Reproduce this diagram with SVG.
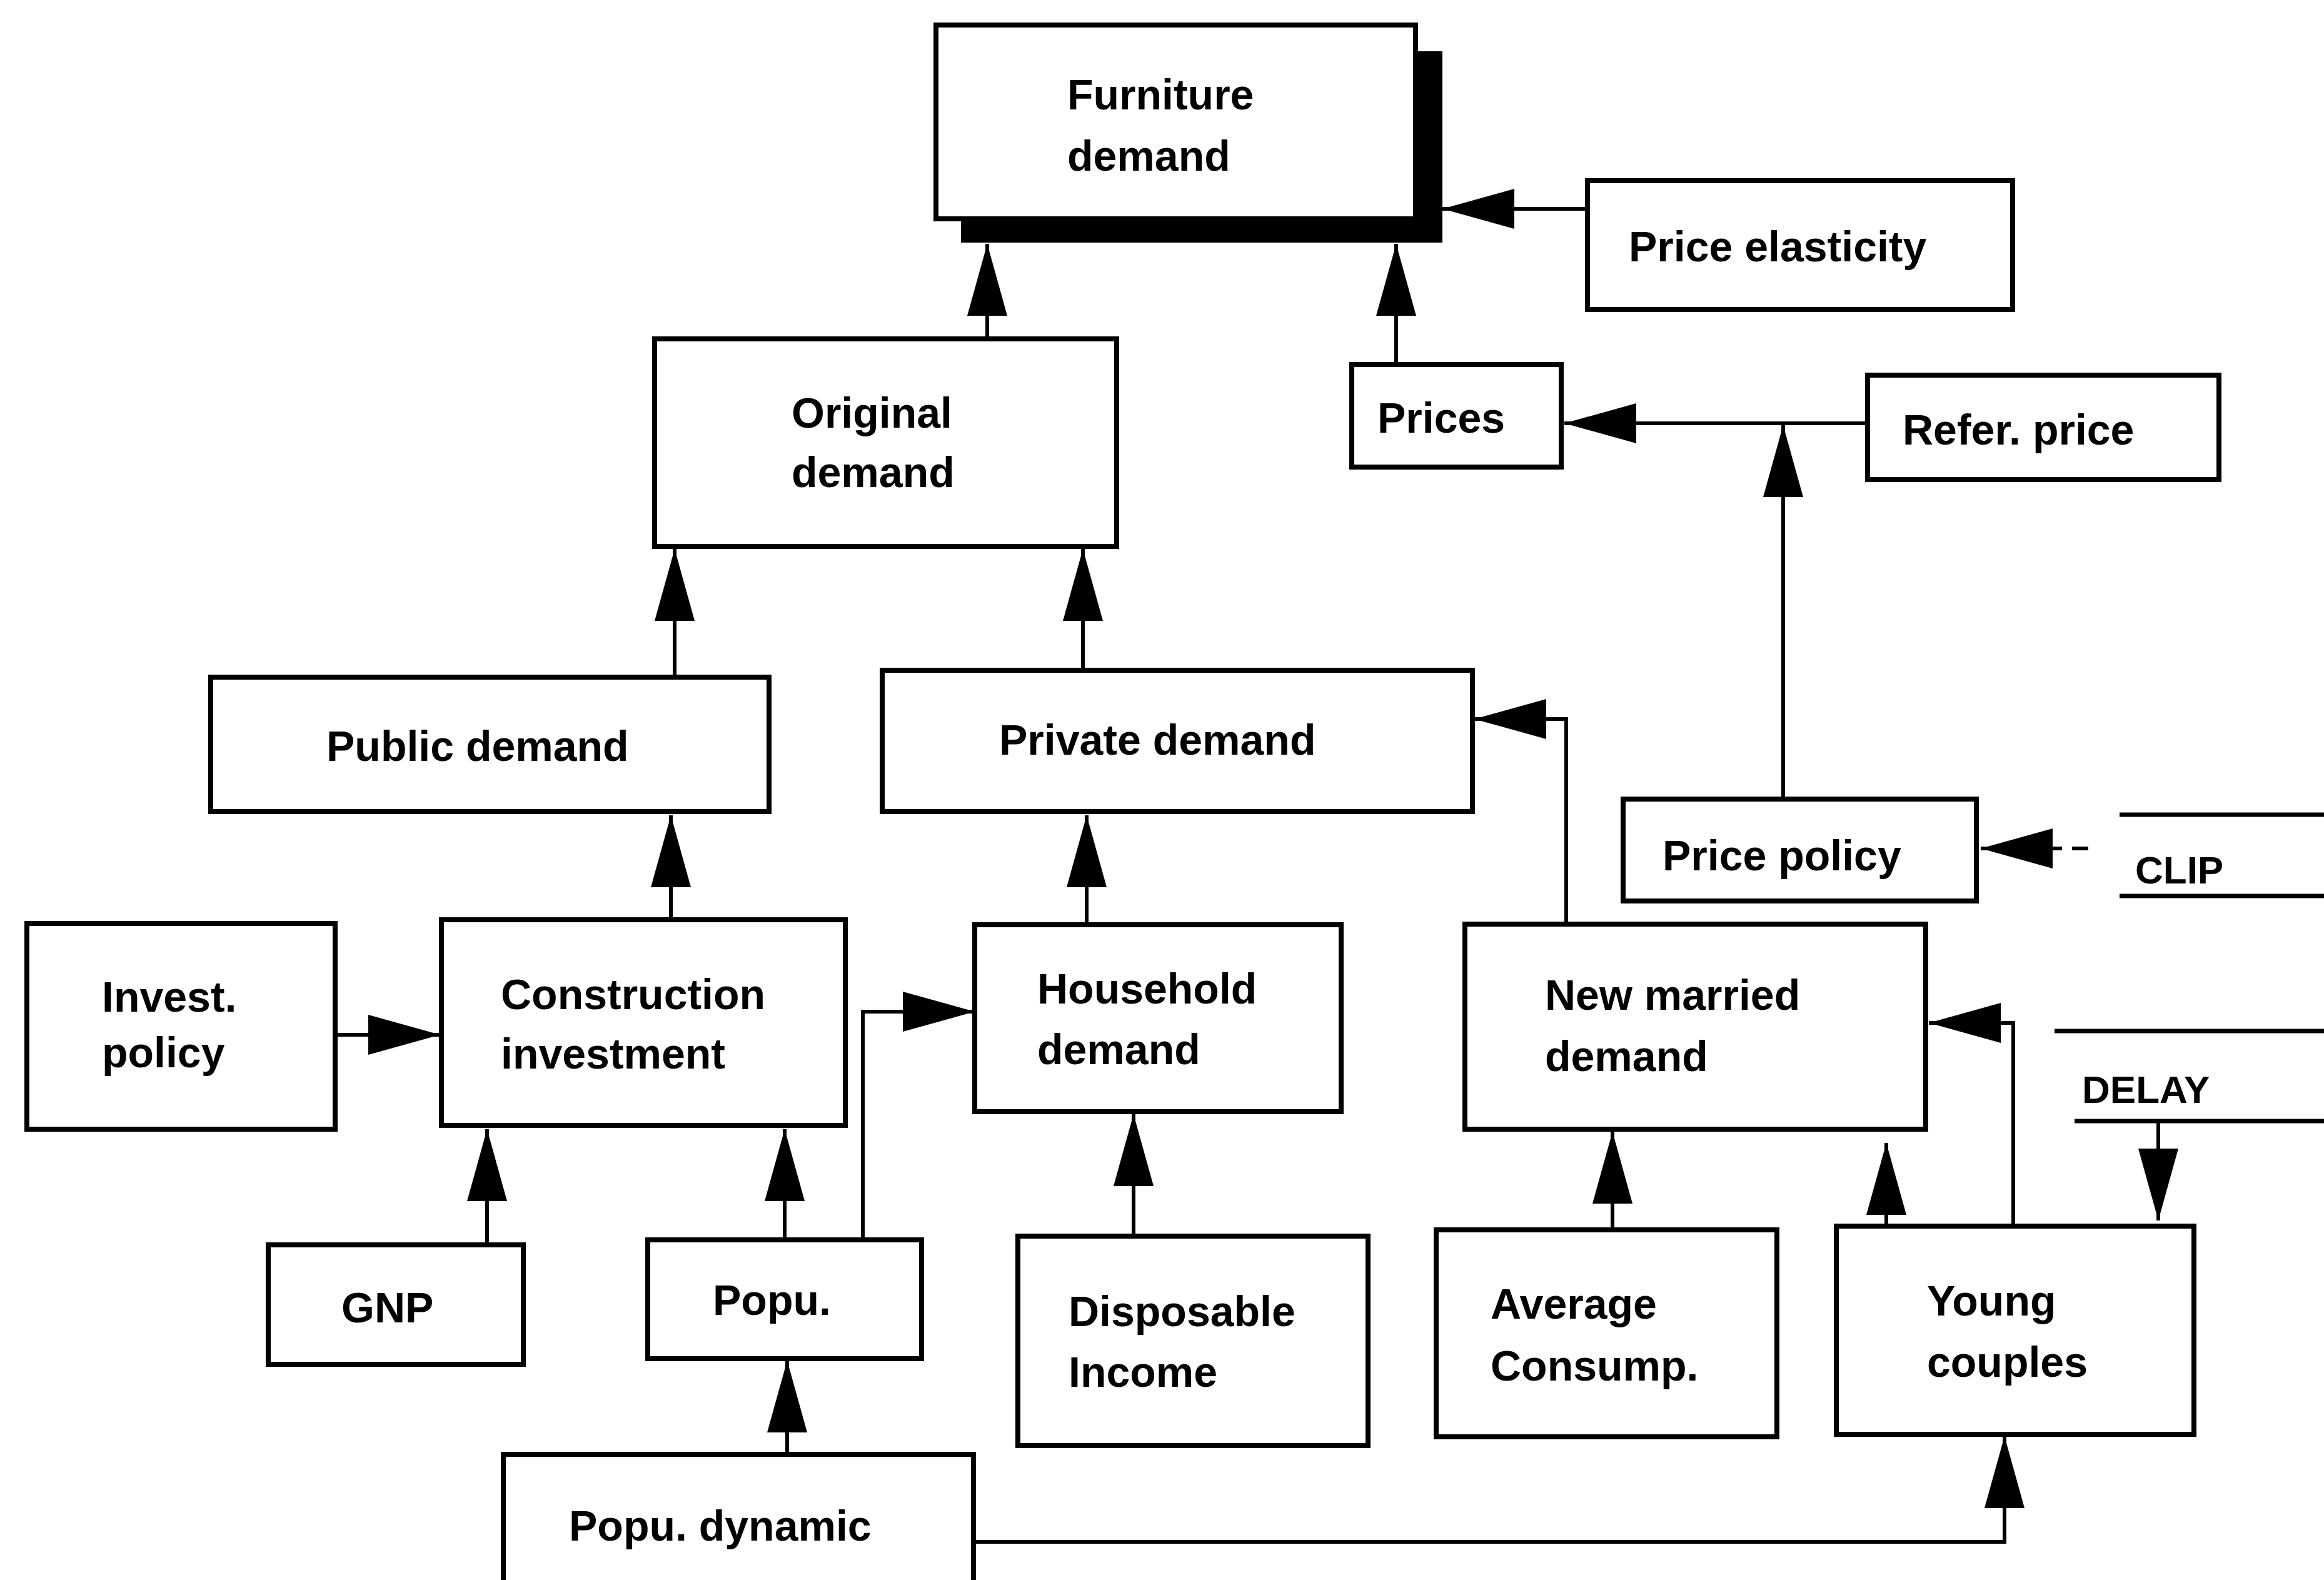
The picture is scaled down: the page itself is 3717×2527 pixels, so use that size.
<svg xmlns="http://www.w3.org/2000/svg" width="3717" height="2527" viewBox="0 0 3717 2527">
<defs>
<style>
.box{fill:#fff;stroke:#000;stroke-width:8}
.lbl{font-family:"Liberation Sans",Arial,sans-serif;font-weight:bold;font-size:68px;fill:#000}
.small{font-size:62px}
.conn{fill:none;stroke:#000;stroke-width:6}
.arr{marker-end:url(#ah)}
.rule{fill:none;stroke:#000;stroke-width:7}
</style>
<marker id="ah" viewBox="0 0 115 64" refX="115" refY="32" markerWidth="115" markerHeight="64" markerUnits="userSpaceOnUse" orient="auto">
<path d="M0,0 L115,32 L0,64 Z" fill="#000"/>
</marker>
</defs>
<rect x="0" y="0" width="3717" height="2527" fill="#fff"/>

<g id="connectors">
<path class="conn arr" d="M2539,334 L2307,334"/>
<path class="conn arr" d="M1579,540 L1579,390"/>
<path class="conn arr" d="M2233,583 L2233,390"/>
<path class="conn arr" d="M2987,677 L2502,677"/>
<path class="conn arr" d="M2852,1278 L2852,680"/>
<path class="conn arr" d="M1079,1083 L1079,878"/>
<path class="conn arr" d="M1732,1072 L1732,878"/>
<path class="conn arr" d="M1073,1471 L1073,1304"/>
<path class="conn arr" d="M1738,1479 L1738,1304"/>
<path class="conn arr" d="M2505,1478 L2505,1150 L2358,1150"/>
<path class="conn arr" d="M536,1655 L704,1655"/>
<path class="conn arr" d="M779,1991 L779,1806"/>
<path class="conn arr" d="M1255,1983 L1255,1806"/>
<path class="conn arr" d="M1380,1983 L1380,1618 L1559,1618"/>
<path class="conn arr" d="M1259,2326 L1259,2176"/>
<path class="conn arr" d="M1813,1977 L1813,1782"/>
<path class="conn arr" d="M2579,1967 L2579,1810"/>
<path class="conn arr" d="M3017,1961 L3017,1828"/>
<path class="conn arr" d="M3220,1961 L3220,1636 L3085,1636"/>
<path class="conn arr" d="M1560,2466 L3206,2466 L3206,2297"/>
<path class="conn" d="M3340,1357 L3314,1357"/>
<path class="conn arr" d="M3298,1357 L3168,1357"/>
<path class="conn arr" d="M3452,1793 L3452,1952"/>
</g>

<g id="furniture-demand">
<rect x="1537" y="82" width="770" height="306" fill="#000"/>
<rect class="box" x="1497" y="40" width="767" height="310"/>
<text class="lbl" x="1707" y="175">Furniture</text>
<text class="lbl" x="1707" y="273">demand</text>
</g>
<g id="price-elasticity">
<rect class="box" x="2539" y="289" width="680" height="206"/>
<text class="lbl" x="2605" y="418">Price elasticity</text>
</g>
<g id="original-demand">
<rect class="box" x="1047" y="542" width="739" height="332"/>
<text class="lbl" x="1266" y="684">Original</text>
<text class="lbl" x="1266" y="779">demand</text>
</g>
<g id="prices">
<rect class="box" x="2162" y="583" width="335" height="164"/>
<text class="lbl" x="2203" y="692">Prices</text>
</g>
<g id="refer-price">
<rect class="box" x="2987" y="600" width="562" height="167"/>
<text class="lbl" x="3043" y="711">Refer. price</text>
</g>
<g id="public-demand">
<rect class="box" x="337" y="1083" width="893" height="215"/>
<text class="lbl" x="522" y="1217">Public demand</text>
</g>
<g id="private-demand">
<rect class="box" x="1411" y="1072" width="944" height="226"/>
<text class="lbl" x="1598" y="1207">Private demand</text>
</g>
<g id="price-policy">
<rect class="box" x="2596" y="1278" width="565" height="163"/>
<text class="lbl" x="2659" y="1392">Price policy</text>
</g>
<g id="clip">
<line class="rule" x1="3390" y1="1303" x2="3717" y2="1303"/>
<line class="rule" x1="3390" y1="1433" x2="3717" y2="1433"/>
<text class="lbl small" x="3415" y="1413">CLIP</text>
</g>
<g id="delay">
<line class="rule" x1="3286" y1="1649" x2="3717" y2="1649"/>
<line class="rule" x1="3318" y1="1793" x2="3717" y2="1793"/>
<text class="lbl small" x="3330" y="1764">DELAY</text>
</g>
<g id="invest-policy">
<rect class="box" x="43" y="1477" width="493" height="329"/>
<text class="lbl" x="163" y="1618">Invest.</text>
<text class="lbl" x="163" y="1707">policy</text>
</g>
<g id="construction-investment">
<rect class="box" x="706" y="1471" width="646" height="329"/>
<text class="lbl" x="801" y="1614">Construction</text>
<text class="lbl" x="801" y="1709">investment</text>
</g>
<g id="household-demand">
<rect class="box" x="1559" y="1479" width="586" height="299"/>
<text class="lbl" x="1659" y="1605">Household</text>
<text class="lbl" x="1659" y="1702">demand</text>
</g>
<g id="new-married-demand">
<rect class="box" x="2343" y="1478" width="737" height="328"/>
<text class="lbl" x="2471" y="1615">New married</text>
<text class="lbl" x="2471" y="1713">demand</text>
</g>
<g id="gnp">
<rect class="box" x="429" y="1991" width="408" height="191"/>
<text class="lbl" x="546" y="2115">GNP</text>
</g>
<g id="popu">
<rect class="box" x="1036" y="1983" width="438" height="190"/>
<text class="lbl" x="1140" y="2103">Popu.</text>
</g>
<g id="disposable-income">
<rect class="box" x="1628" y="1977" width="560" height="335"/>
<text class="lbl" x="1709" y="2121">Disposable</text>
<text class="lbl" x="1709" y="2218">Income</text>
</g>
<g id="average-consump">
<rect class="box" x="2297" y="1967" width="545" height="331"/>
<text class="lbl" x="2384" y="2109">Average</text>
<text class="lbl" x="2384" y="2208">Consump.</text>
</g>
<g id="young-couples">
<rect class="box" x="2937" y="1961" width="572" height="333"/>
<text class="lbl" x="3082" y="2104">Young</text>
<text class="lbl" x="3082" y="2202">couples</text>
</g>
<g id="popu-dynamic">
<rect class="box" x="805" y="2326" width="752" height="260"/>
<text class="lbl" x="910" y="2464">Popu. dynamic</text>
</g>
</svg>
